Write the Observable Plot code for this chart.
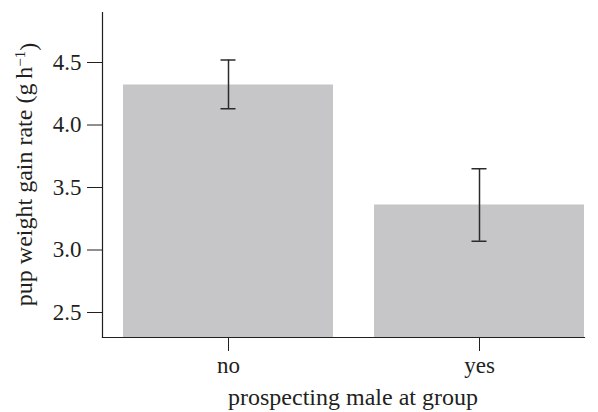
<!DOCTYPE html>
<html>
<head>
<meta charset="utf-8">
<script src="https://cdn.jsdelivr.net/npm/d3@7"></script>
<script src="https://cdn.jsdelivr.net/npm/@observablehq/plot@0.6"></script>
<style>
  html, body { margin: 0; padding: 0; background: #fff; }
  #chart svg { display: block; }
</style>
</head>
<body>
<div id="chart"></div>
<script>
const categories = ["no", "yes"];
const means = [4.32, 3.36];
const lower = [4.13, 3.07];
const upper = [4.52, 3.65];
const yTicks = [2.5, 3.0, 3.5, 4.0, 4.5];
const yDomain = [2.3, 4.9];
const xLabel = "prospecting male at group";

const data = categories.map((c, i) => ({cat: c, mean: means[i], lo: lower[i], hi: upper[i]}));

const W = 598, H = 412;
const plot = Plot.plot({
  width: W,
  height: H,
  marginLeft: 102,
  marginRight: 14,
  marginTop: 12,
  marginBottom: 75,
  style: {fontFamily: "'Liberation Serif', 'Times New Roman', serif", fontSize: "23px", color: "#231f20", background: "#fff"},
  x: {domain: categories, paddingInner: 0.163, paddingOuter: 0.038, align: 1, label: null},
  y: {domain: yDomain, label: null},
  marks: [
    Plot.barY(data, {x: "cat", y1: yDomain[0], y2: "mean", fill: "#c6c6c8"}),
    Plot.ruleX(data, {x: "cat", y1: "lo", y2: "hi", stroke: "#2b2b2b", strokeWidth: 1.5}),
    Plot.tickY(data, {x: "cat", y: "lo", stroke: "#2b2b2b", strokeWidth: 1.5, insetLeft: 97.5, insetRight: 97.5}),
    Plot.tickY(data, {x: "cat", y: "hi", stroke: "#2b2b2b", strokeWidth: 1.5, insetLeft: 97.5, insetRight: 97.5}),
    Plot.axisY({ticks: yTicks, tickFormat: d3.format(".1f"), tickSize: 15, tickPadding: 6, label: null, stroke: "#231f20"}),
    Plot.axisX({tickSize: 14, tickPadding: 5, label: null, stroke: "#231f20"}),
    Plot.frame({anchor: "left", stroke: "#231f20", strokeWidth: 1.2}),
    Plot.frame({anchor: "bottom", stroke: "#231f20", strokeWidth: 1.2})
  ]
});
document.getElementById("chart").appendChild(plot);

const svg = d3.select(plot);
const x = plot.scale("x");
const xCenter = (102 + (W - 14)) / 2;

// x-axis label
svg.append("text")
  .attr("x", xCenter + 10)
  .attr("y", 405)
  .attr("text-anchor", "middle")
  .attr("fill", "#231f20")
  .style("font-size", "24px")
  .text(xLabel);

// y-axis label with superscript
const cy = (12 + (H - 75)) / 2;
const t = svg.append("text")
  .attr("transform", `translate(32,${cy}) rotate(-90)`)
  .attr("text-anchor", "middle")
  .attr("fill", "#231f20")
  .style("font-size", "24px");
t.append("tspan").text("pup weight gain rate (g\u2009h");
t.append("tspan").attr("dy", "-0.45em").style("font-size", "15px").text("\u22121");
t.append("tspan").attr("dy", "0.45em").text(")");
</script>
</body>
</html>
